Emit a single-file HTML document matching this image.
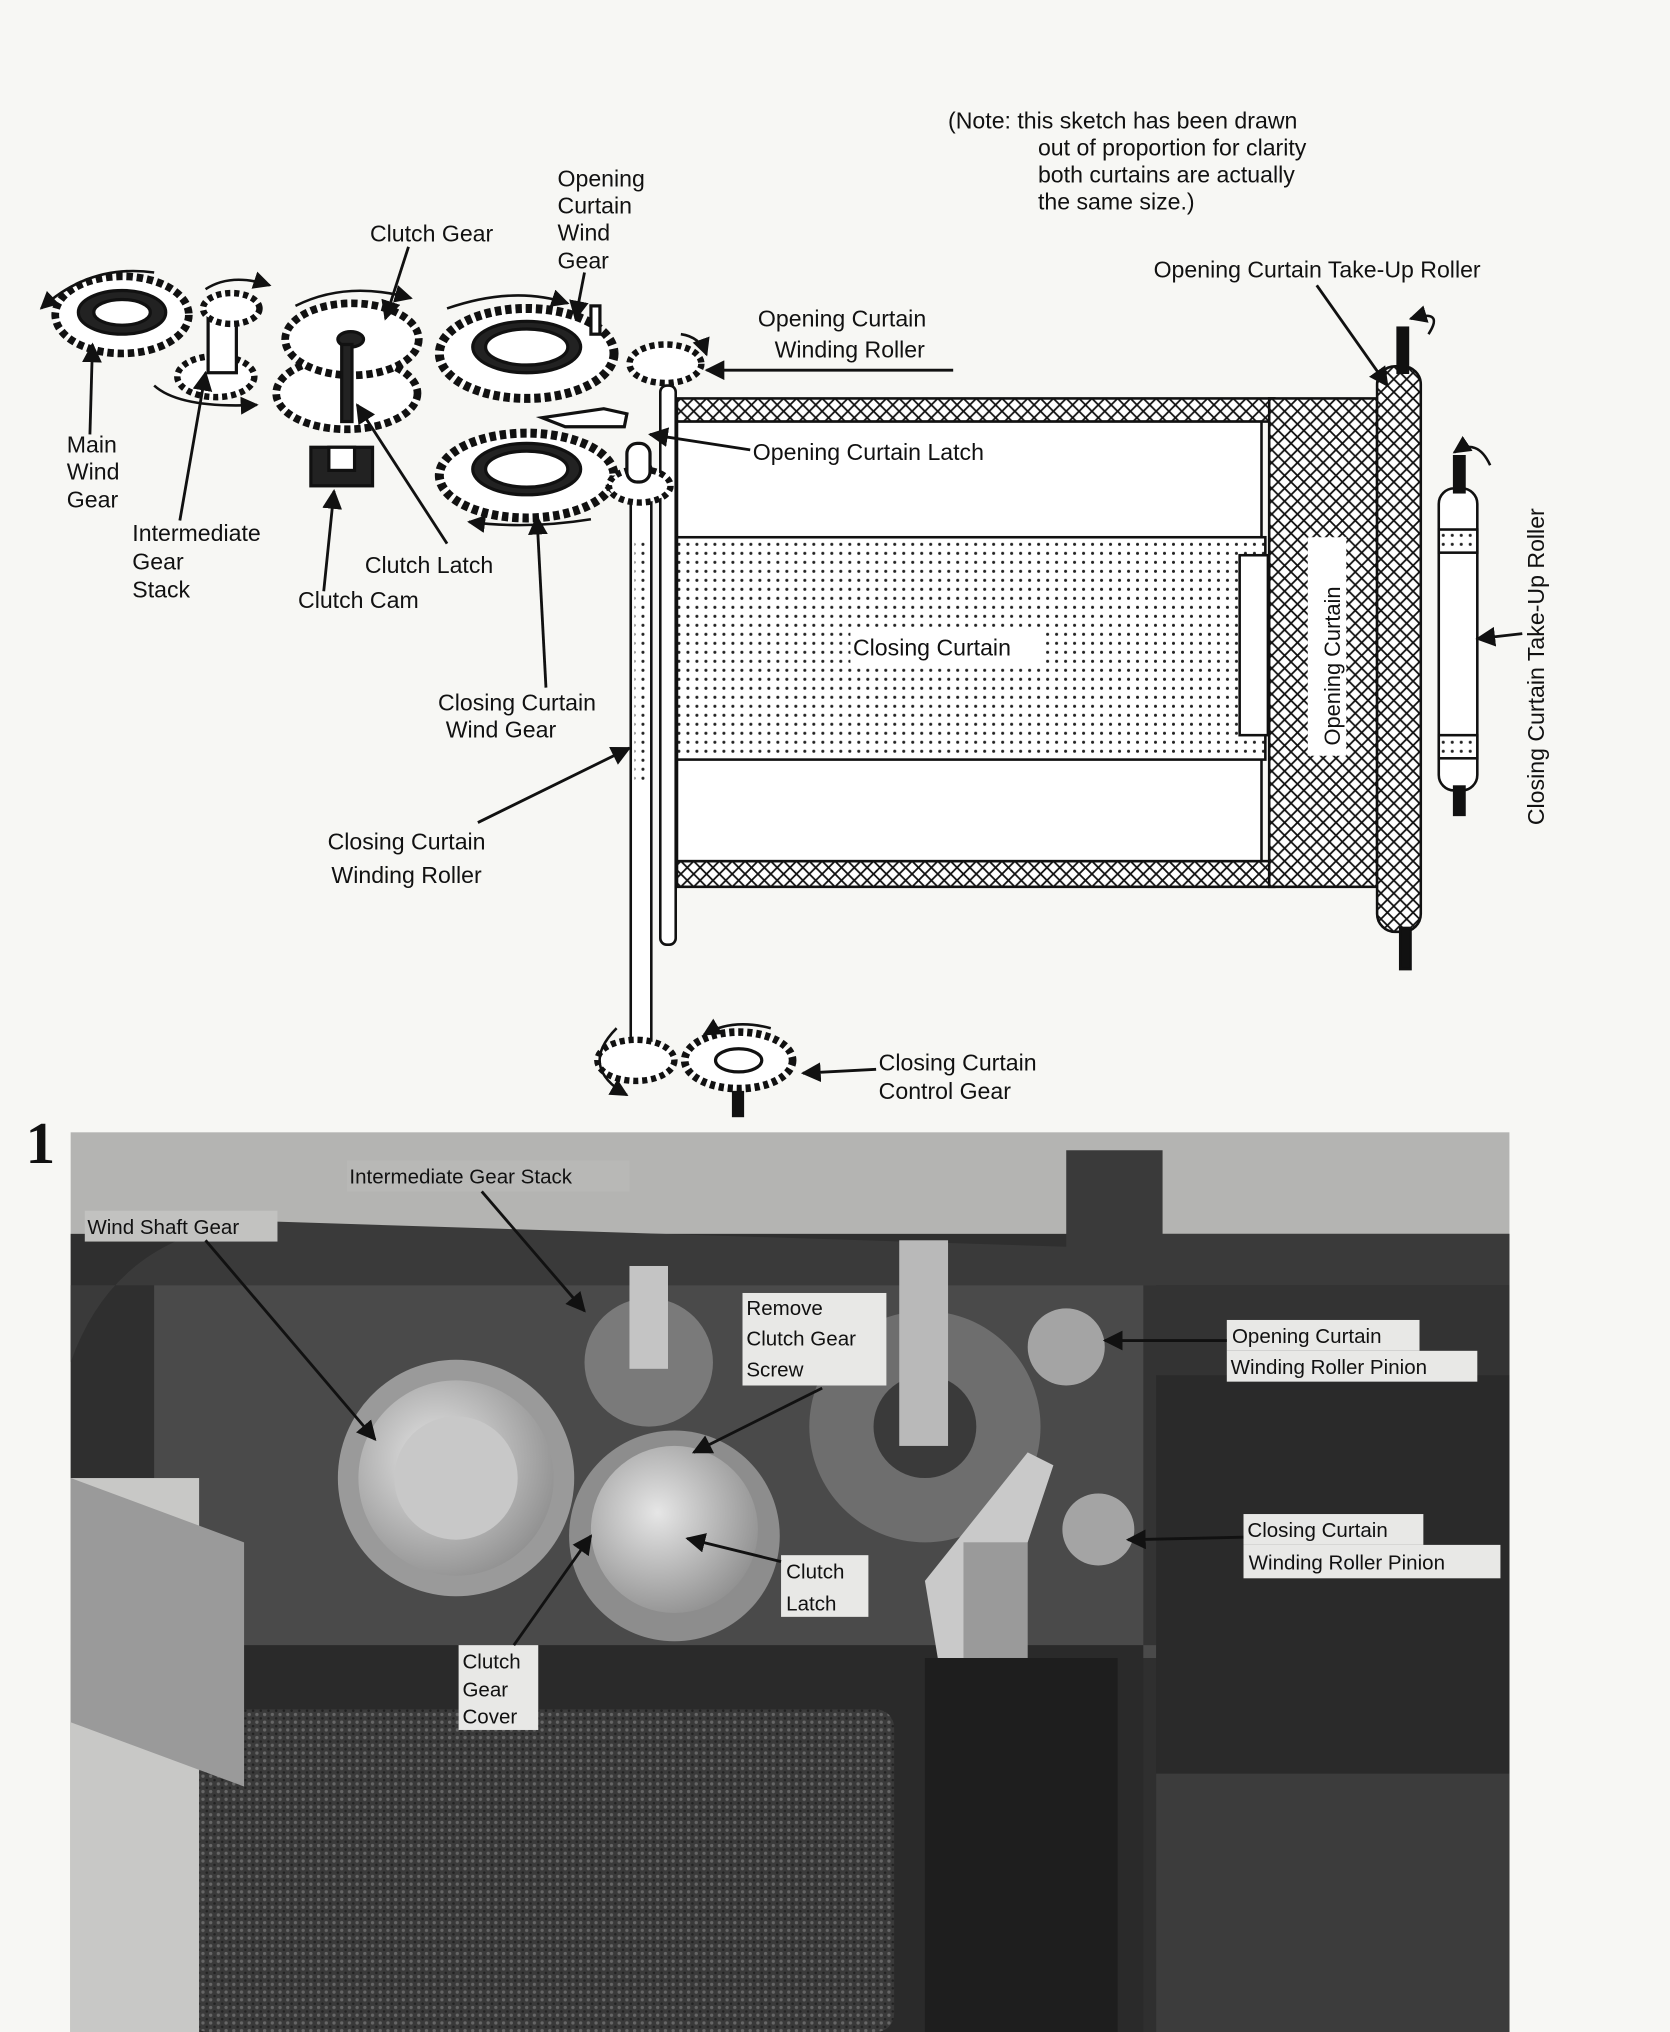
<!DOCTYPE html>
<html><head><meta charset="utf-8"><style>
html,body{margin:0;padding:0;background:#f7f7f4;}
svg{display:block;}
text{font-family:"Liberation Sans",sans-serif;fill:#111;}
</style></head><body>
<svg width="1670" height="2032" viewBox="0 0 1300 1581" preserveAspectRatio="none" xmlns="http://www.w3.org/2000/svg">
<defs>
<pattern id="xh" width="10" height="10" patternUnits="userSpaceOnUse"><rect width="10" height="10" fill="#fff"/><path d="M0 0L10 10M10 0L0 10" stroke="#111" stroke-width="1.4"/></pattern>
<pattern id="dot" width="7" height="7" patternUnits="userSpaceOnUse"><rect width="7" height="7" fill="#fff"/><circle cx="3.5" cy="3.5" r="1.2" fill="#222"/></pattern>
<pattern id="tex" width="6" height="6" patternUnits="userSpaceOnUse"><rect width="6" height="6" fill="#3a3a3a"/><circle cx="2" cy="2" r="1.3" fill="#666"/><circle cx="5" cy="5" r="1" fill="#222"/></pattern>
<marker id="ah" viewBox="0 0 10 10" refX="9" refY="5" markerWidth="7" markerHeight="7" orient="auto"><path d="M0 0L10 5L0 10z" fill="#111"/></marker>
<radialGradient id="gr" cx="0.4" cy="0.4" r="0.7"><stop offset="0" stop-color="#e6e6e6"/><stop offset="1" stop-color="#8a8a8a"/></radialGradient>
</defs>

<!-- curtains frame -->
<g stroke="#111" stroke-width="2">
<rect x="527" y="310" width="465" height="18" fill="url(#xh)"/>
<rect x="527" y="670" width="465" height="20" fill="url(#xh)"/>
<rect x="527" y="328" width="455" height="342" fill="#fff"/>
<rect x="527" y="418" width="458" height="173" fill="url(#dot)"/>
<rect x="965" y="432" width="22" height="140" fill="#fff"/>
<rect x="988" y="310" width="84" height="380" fill="url(#xh)"/>
<rect x="1018" y="418" width="30" height="170" fill="#fff" stroke="none"/>
<rect x="1072" y="285" width="34" height="440" rx="14" fill="url(#xh)"/>
<rect x="1088" y="255" width="8" height="35" fill="#111"/>
<rect x="1090" y="722" width="8" height="32" fill="#111"/>
<rect x="1120" y="380" width="30" height="235" rx="12" fill="#fff"/>
<rect x="1120" y="412" width="30" height="18" fill="url(#dot)"/>
<rect x="1120" y="572" width="30" height="18" fill="url(#dot)"/>
<rect x="1132" y="355" width="8" height="28" fill="#111"/>
<rect x="1132" y="612" width="8" height="22" fill="#111"/>
<rect x="514" y="300" width="12" height="435" rx="5" fill="#fff"/>
<rect x="491" y="360" width="16" height="460" rx="5" fill="#fff"/>
<rect x="494" y="420" width="10" height="190" fill="url(#dot)" stroke="none"/>
</g>
<rect x="662" y="490" width="150" height="26" fill="#fff"/>

<!-- gears -->
<g stroke="#111" stroke-width="2.5" fill="#fff">
<ellipse cx="95" cy="245" rx="52" ry="30" stroke-dasharray="5 3" stroke-width="6"/>
<ellipse cx="95" cy="243" rx="34" ry="17" fill="#222"/><ellipse cx="95" cy="243" rx="22" ry="10"/>
<ellipse cx="168" cy="293" rx="30" ry="16" stroke-dasharray="4 3" stroke-width="5"/>
<rect x="162" y="245" width="22" height="45"/>
<ellipse cx="180" cy="240" rx="22" ry="12" stroke-dasharray="4 3" stroke-width="5"/>
<ellipse cx="270" cy="306" rx="55" ry="28" stroke-dasharray="5 3" stroke-width="6"/>
<ellipse cx="274" cy="264" rx="52" ry="28" stroke-dasharray="5 3" stroke-width="6"/>
<ellipse cx="273" cy="264" rx="10" ry="6" fill="#222"/>
<rect x="266" y="268" width="8" height="60" fill="#222"/>
<rect x="242" y="348" width="48" height="30" fill="#222"/><rect x="256" y="348" width="20" height="18"/>
<ellipse cx="410" cy="275" rx="68" ry="35" stroke-dasharray="5 3" stroke-width="7"/>
<ellipse cx="410" cy="270" rx="42" ry="20" fill="#222"/><ellipse cx="410" cy="270" rx="32" ry="14"/>
<rect x="460" y="238" width="7" height="22"/>
<ellipse cx="410" cy="370" rx="68" ry="33" stroke-dasharray="5 3" stroke-width="7"/>
<ellipse cx="410" cy="365" rx="42" ry="20" fill="#222"/><ellipse cx="410" cy="365" rx="32" ry="14"/>
<ellipse cx="518" cy="283" rx="28" ry="15" stroke-dasharray="4 3" stroke-width="5"/>
<ellipse cx="498" cy="378" rx="24" ry="13" stroke-dasharray="4 3" stroke-width="5"/>
<rect x="488" y="345" width="18" height="30" rx="8"/>
<path d="M422 325 L470 318 L488 322 L486 332 L440 332z"/>
<ellipse cx="495" cy="825" rx="30" ry="16" stroke-dasharray="4 3" stroke-width="5"/>
<ellipse cx="575" cy="825" rx="42" ry="22" stroke-dasharray="4 3" stroke-width="6"/>
<ellipse cx="575" cy="825" rx="18" ry="9"/>
<rect x="571" y="850" width="7" height="18" fill="#111"/>
</g>
<g stroke="#111" stroke-width="2" fill="none" marker-end="url(#ah)">
<path d="M120 212 Q70 205 32 240"/>
<path d="M160 225 Q180 212 210 222"/>
<path d="M230 238 Q270 218 320 232"/>
<path d="M348 240 Q400 222 442 236"/>
<path d="M460 404 Q410 412 365 406"/>
<path d="M120 300 Q140 318 200 315"/>
<path d="M1112 260 Q1125 240 1098 248"/>
<path d="M1160 362 Q1150 340 1132 352"/>
<path d="M480 800 Q450 830 488 852"/>
<path d="M600 800 Q570 792 548 805"/>
<path d="M530 260 Q545 262 550 276"/>
</g>
<g stroke="#111" stroke-width="2.2" fill="none" marker-end="url(#ah)">
<path d="M455 212 L448 248"/>
<path d="M318 192 L300 248"/>
<path d="M70 338 L72 268"/>
<path d="M140 405 L160 290"/>
<path d="M348 423 L278 315"/>
<path d="M252 460 L260 382"/>
<path d="M425 535 L418 402"/>
<path d="M372 640 L490 582"/>
<path d="M742 288 L550 288"/>
<path d="M584 350 L506 338"/>
<path d="M1025 222 L1080 300"/>
<path d="M1185 493 L1150 497"/>
<path d="M682 832 L625 835"/>
</g>

<g font-size="18">
<text x="738" y="100">(Note: this sketch has been drawn</text>
<text x="808" y="121">out of proportion for clarity</text>
<text x="808" y="142">both curtains are actually</text>
<text x="808" y="163">the same size.)</text>
<text x="434" y="145">Opening</text><text x="434" y="166">Curtain</text><text x="434" y="187">Wind</text><text x="434" y="209">Gear</text>
<text x="288" y="188">Clutch Gear</text>
<text x="898" y="216">Opening Curtain Take-Up Roller</text>
<text x="590" y="254">Opening Curtain</text><text x="603" y="278">Winding Roller</text>
<text x="586" y="358">Opening Curtain Latch</text>
<text x="52" y="352">Main</text><text x="52" y="373">Wind</text><text x="52" y="395">Gear</text>
<text x="103" y="421">Intermediate</text><text x="103" y="443">Gear</text><text x="103" y="465">Stack</text>
<text x="284" y="446">Clutch Latch</text>
<text x="232" y="473">Clutch Cam</text>
<text x="341" y="553">Closing Curtain</text><text x="347" y="574">Wind Gear</text>
<text x="255" y="661">Closing Curtain</text><text x="258" y="687">Winding Roller</text>
<text x="684" y="833">Closing Curtain</text><text x="684" y="855">Control Gear</text>
<text x="1202" y="642" transform="rotate(-90 1202 642)">Closing Curtain Take-Up Roller</text>
<text x="664" y="510">Closing Curtain</text>
</g>
<text x="1043" y="580" font-size="17" transform="rotate(-90 1043 580)">Opening Curtain</text>
<text x="20" y="905" font-size="46" font-weight="bold" style="font-family:'Liberation Serif',serif">1</text>

<!-- photo -->
<g>
<rect x="55" y="881" width="1120" height="700" fill="#b4b4b2"/>
<rect x="55" y="960" width="1120" height="621" fill="#2f2f2f"/>
<path d="M55 1060 Q90 960 200 950 L830 970 L830 895 L905 895 L905 960 L1175 960 L1175 1000 L55 1000z" fill="#3a3a3a"/>
<rect x="120" y="1000" width="780" height="290" fill="#4a4a4a"/>
<rect x="890" y="1000" width="285" height="280" fill="#333"/>
<rect x="900" y="1070" width="275" height="511" fill="#2a2a2a"/>
<rect x="55" y="1280" width="835" height="301" fill="#2a2a2a"/>
<rect x="148" y="1330" width="548" height="251" rx="14" fill="url(#tex)"/>
<rect x="55" y="1150" width="100" height="431" fill="#c8c8c6"/>
<path d="M55 1150 L190 1200 L190 1390 L55 1340z" fill="#9a9a9a"/>
<rect x="720" y="1290" width="150" height="291" fill="#1e1e1e"/>
<rect x="900" y="1380" width="275" height="201" fill="#3c3c3c"/>
<circle cx="355" cy="1150" r="92" fill="#9a9a9a"/><circle cx="355" cy="1150" r="76" fill="url(#gr)"/><circle cx="355" cy="1150" r="48" fill="#c8c8c8"/>
<circle cx="525" cy="1195" r="82" fill="#8d8d8d"/><circle cx="525" cy="1190" r="65" fill="url(#gr)"/>
<circle cx="505" cy="1060" r="50" fill="#7a7a7a"/><rect x="490" y="985" width="30" height="80" fill="#c4c4c4"/>
<circle cx="720" cy="1110" r="90" fill="#6e6e6e"/><circle cx="720" cy="1110" r="40" fill="#3a3a3a"/>
<rect x="700" y="965" width="38" height="160" fill="#b9b9b9"/>
<circle cx="830" cy="1048" r="30" fill="#a4a4a4"/>
<circle cx="855" cy="1190" r="28" fill="#a4a4a4"/>
<path d="M720 1230 L800 1130 L820 1140 L770 1290 L730 1290z" fill="#c9c9c9"/>
<rect x="750" y="1200" width="50" height="90" fill="#9a9a9a"/>
</g>
<g font-size="16">
<rect x="66" y="942" width="150" height="24" fill="#c2c2c0"/><text x="68" y="960" fill="#333">Wind Shaft Gear</text>
<rect x="270" y="903" width="220" height="24" fill="#b8b8b6"/><text x="272" y="921" fill="#333">Intermediate Gear Stack</text>
<rect x="578" y="1006" width="112" height="72" fill="#e8e8e6"/>
<text x="581" y="1023" fill="#333">Remove</text><text x="581" y="1047" fill="#333">Clutch Gear</text><text x="581" y="1071" fill="#333">Screw</text>
<rect x="955" y="1027" width="150" height="24" fill="#e8e8e6"/><rect x="955" y="1051" width="195" height="24" fill="#e8e8e6"/>
<text x="959" y="1045" fill="#333">Opening Curtain</text><text x="958" y="1069" fill="#333">Winding Roller Pinion</text>
<rect x="968" y="1178" width="140" height="24" fill="#e8e8e6"/><rect x="968" y="1202" width="200" height="26" fill="#e8e8e6"/>
<text x="971" y="1196" fill="#333">Closing Curtain</text><text x="972" y="1221" fill="#333">Winding Roller Pinion</text>
<rect x="608" y="1210" width="68" height="48" fill="#e8e8e6"/>
<text x="612" y="1228" fill="#333">Clutch</text><text x="612" y="1253" fill="#333">Latch</text>
<rect x="357" y="1280" width="62" height="66" fill="#e8e8e6"/>
<text x="360" y="1298" fill="#333">Clutch</text><text x="360" y="1320" fill="#333">Gear</text><text x="360" y="1341" fill="#333">Cover</text>
</g>
<g stroke="#111" stroke-width="2.2" fill="none" marker-end="url(#ah)">
<path d="M160 965 L292 1120"/>
<path d="M375 927 L455 1020"/>
<path d="M640 1080 L540 1130"/>
<path d="M608 1215 L535 1197"/>
<path d="M400 1280 L460 1195"/>
<path d="M955 1043 L860 1043"/>
<path d="M968 1196 L878 1198"/>
</g>
</svg>
</body></html>
